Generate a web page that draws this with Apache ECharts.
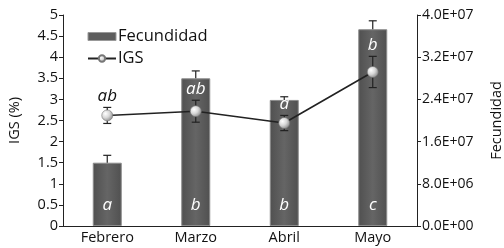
<!DOCTYPE html>
<html><head><meta charset="utf-8">
<script src="https://cdn.jsdelivr.net/npm/echarts@6/dist/echarts.min.js"></script>
<style>html,body{margin:0;padding:0;background:#fff}#c{width:504px;height:248px}</style>
</head><body><div id="c"></div>
<script>
const categories = ['Febrero','Marzo','Abril','Mayo'];
const fecundidad = [1.2e7, 2.8e7, 2.39e7, 3.73e7];
const fecundidadErr = [1.4e6, 1.4e6, 0.6e6, 1.6e6];
const igs = [2.62, 2.72, 2.44, 3.65];
const igsErr = [0.19, 0.26, 0.18, 0.37];
const fecLetters = ['a','b','b','c'];
const igsLetters = ['ab','ab','a','b'];
const leftTicks = {min:0, max:5, interval:0.5};
const rightTicks = {min:0, max:4e7, interval:8e6};

const FONT = 'Open Sans';
function sci(v){
  if (v === 0) return '0.0E+00';
  const e = Math.floor(Math.log10(v) + 1e-9);
  const m = v / Math.pow(10, e);
  return m.toFixed(1) + 'E+' + String(e).padStart(2,'0');
}
const chart = echarts.init(document.getElementById('c'), null, {renderer:'canvas'});

function errRender(vals, errs, upOnly){
  return function(params, api){
    const i = api.value(0);
    const v = vals[i], e = errs[i];
    const top = api.coord([i, v + e]);
    const bot = upOnly ? api.coord([i, v]) : api.coord([i, v - e]);
    const cap = 4;
    const st = {stroke:'#222', lineWidth:1.2};
    return {type:'group', children:[
      {type:'line', shape:{x1:top[0], y1:top[1], x2:bot[0], y2:bot[1]}, style:st},
      {type:'line', shape:{x1:top[0]-cap, y1:top[1], x2:top[0]+cap, y2:top[1]}, style:st},
      upOnly ? {type:'group'} : {type:'line', shape:{x1:bot[0]-cap, y1:bot[1], x2:bot[0]+cap, y2:bot[1]}, style:st}
    ]};
  };
}

const markerColor = new echarts.graphic.RadialGradient(0.35, 0.35, 0.7, [
  {offset:0, color:'#ffffff'}, {offset:0.5, color:'#d8d8d8'}, {offset:1, color:'#8a8a8a'}]);
const barColor = new echarts.graphic.LinearGradient(0,0,1,0,[
  {offset:0, color:'#505050'},{offset:0.5, color:'#656565'},{offset:1, color:'#505050'}]);

chart.setOption({
  animation:false,
  textStyle:{fontFamily:FONT},
  grid:{left:63, right:87, top:15, bottom:22, containLabel:false, outerBoundsMode:'none'},
  legend:{
    orient:'vertical', left:82, top:23, itemGap:5, itemWidth:28, itemHeight:8,
    textStyle:{fontFamily:FONT, fontSize:16.5, color:'#111', padding:[0,0,0,-3]},
    data:[
      {name:'Fecundidad', icon:'rect', itemStyle:{color:'#5e5e5e', borderColor:'#999', borderWidth:1}},
      {name:'IGS'}
    ]
  },
  xAxis:{
    type:'category', data:categories,
    axisLine:{lineStyle:{color:'#222', width:1}},
    axisTick:{length:4, lineStyle:{color:'#222'}},
    axisLabel:{fontFamily:FONT, fontSize:14.5, color:'#111', margin:4}
  },
  yAxis:[
    {type:'value', min:leftTicks.min, max:leftTicks.max, interval:leftTicks.interval,
     name:'IGS (%)', nameLocation:'middle', nameGap:41, nameRotate:90,
     nameTextStyle:{fontFamily:FONT, fontSize:14.5, color:'#111'},
     axisLine:{show:true, lineStyle:{color:'#222'}},
     axisTick:{show:true, length:4, lineStyle:{color:'#222'}},
     axisLabel:{fontFamily:FONT, fontSize:14.5, color:'#111', margin:5},
     splitLine:{show:false}},
    {type:'value', min:rightTicks.min, max:rightTicks.max, interval:rightTicks.interval,
     name:'Fecundidad', nameLocation:'middle', nameGap:72, nameRotate:90,
     nameTextStyle:{fontFamily:FONT, fontSize:14.5, color:'#111'},
     axisLine:{show:true, lineStyle:{color:'#222'}},
     axisTick:{show:true, length:4, lineStyle:{color:'#222'}},
     axisLabel:{fontFamily:FONT, fontSize:14, color:'#111', margin:5, formatter:sci},
     splitLine:{show:false}}
  ],
  series:[
    {name:'Fecundidad', type:'bar', yAxisIndex:1, data:fecundidad, barWidth:29,
     itemStyle:{color:barColor, borderColor:'#8c8c8c', borderWidth:1}, z:1},
    {type:'custom', yAxisIndex:1, data:fecundidad.map((v,i)=>[i,v]), z:2,
     renderItem:errRender(fecundidad, fecundidadErr, true)},
    {name:'IGS', type:'line', yAxisIndex:0, data:igs, symbol:'circle', symbolSize:11,
     lineStyle:{color:'#222', width:1.6},
     itemStyle:{color:markerColor, borderColor:'#777', borderWidth:0.6}, z:4},
    {type:'custom', yAxisIndex:0, data:igs.map((v,i)=>[i,v]), z:3,
     renderItem:errRender(igs, igsErr, false)},
    {type:'custom', yAxisIndex:0, data:igs.map((v,i)=>[i,v]), z:6,
     renderItem:function(params, api){
       const i = api.value(0);
       const top = api.coord([i, igs[i] + igsErr[i]]);
       const ly = top[1] - 11;
       const barTopY = api.coord([i, fecundidad[i] / rightTicks.max * leftTicks.max])[1];
       const base = api.coord([i, 0]);
       const inside = ly > barTopY;
       return {type:'group', children:[
         {type:'text', x:top[0], y:ly, style:{text:igsLetters[i], fill: inside ? '#fff' : '#111',
           font:'italic 17px "Open Sans"', align:'center', verticalAlign:'middle'}},
         {type:'text', x:base[0], y:base[1]-21, style:{text:fecLetters[i], fill:'#fff',
           font:'italic 17px "Open Sans"', align:'center', verticalAlign:'middle'}}
       ]};
     }}
  ]
});
</script></body></html>
